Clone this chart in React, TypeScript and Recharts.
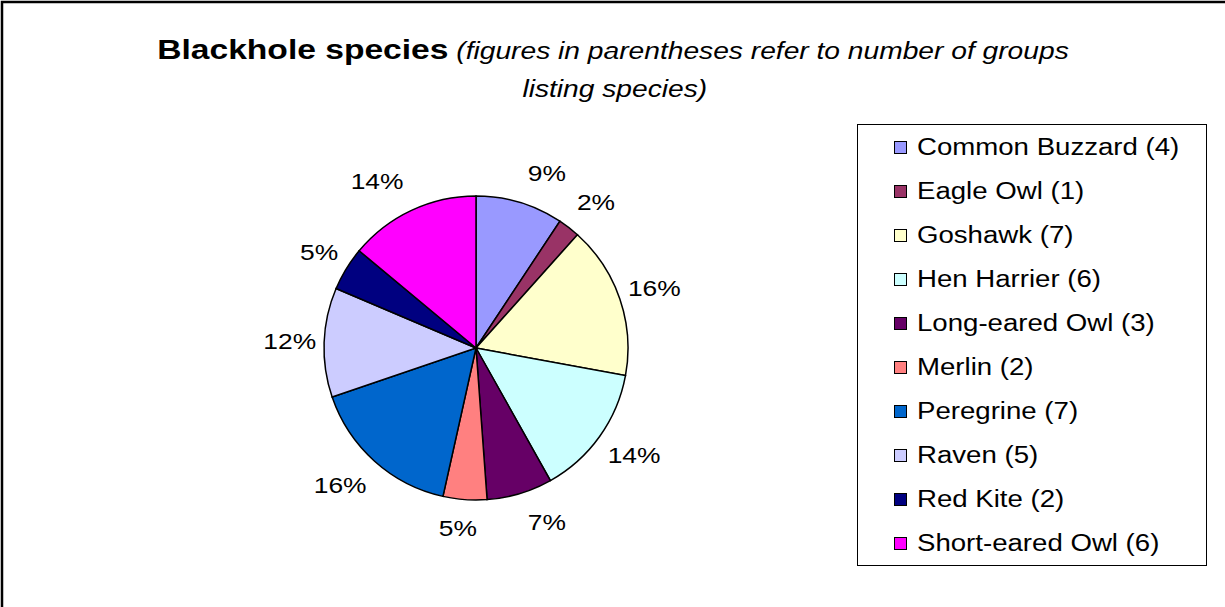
import React from "react";
import { PieChart, Pie, Cell, Legend } from "recharts";

// species and number of groups listing each one
const species = [
  "Common Buzzard",
  "Eagle Owl",
  "Goshawk",
  "Hen Harrier",
  "Long-eared Owl",
  "Merlin",
  "Peregrine",
  "Raven",
  "Red Kite",
  "Short-eared Owl",
];
const groupCounts = [4, 1, 7, 6, 3, 2, 7, 5, 2, 6];
const sliceColors = [
  "#9999FF",
  "#993366",
  "#FFFFCC",
  "#CCFFFF",
  "#660066",
  "#FF8080",
  "#0066CC",
  "#CCCCFF",
  "#000080",
  "#FF00FF",
];

const data = species.map((name, i) => ({
  name: `${name} (${groupCounts[i]})`,
  value: groupCounts[i],
}));

const W = 1225;
const H = 607;
const FONT = "'Liberation Sans', Arial, sans-serif";
const STRETCH = 1.2; // text is drawn a little wide, like the old office charts
const RAD = Math.PI / 180;
const clamp = (v: number) => Math.max(-1, Math.min(1, v));

// percent labels sit just off the rim, pushed sideways/up/down from the slice middle
const renderLabel = (props: any) => {
  const { cx, cy, midAngle, outerRadius, percent } = props;
  const text = `${Math.round(percent * 100)}%`;
  const fontSize = 22;
  const halfW = (((text.length - 1) * 0.556 + 0.889) * fontSize * STRETCH) / 2;
  const c = Math.cos(-midAngle * RAD);
  const s = Math.sin(-midAngle * RAD);
  const x = cx + outerRadius * c + clamp(c / 0.28) * (halfW + 8);
  const y = cy + outerRadius * s + clamp(s * 1.1) * 29;
  return (
    <g transform={`translate(${x},${y}) scale(${STRETCH},1)`}>
      <text
        x={0}
        y={0}
        textAnchor="middle"
        dominantBaseline="central"
        fontFamily={FONT}
        fontSize={fontSize}
        fill="#000"
      >
        {text}
      </text>
    </g>
  );
};

const renderLegend = (props: any) => {
  const items = props.payload || [];
  return (
    <div
      style={{
        width: 350,
        height: 442,
        boxSizing: "border-box",
        border: "1.5px solid #000",
        background: "#fff",
        fontFamily: FONT,
      }}
    >
      {items.map((item: any, i: number) => (
        <div
          key={i}
          style={{
            height: 44,
            display: "flex",
            alignItems: "center",
            position: "relative",
          }}
        >
          <span
            style={{
              position: "absolute",
              left: 36,
              width: 13,
              height: 13,
              boxSizing: "border-box",
              border: "1px solid #000",
              background: sliceColors[i],
            }}
          />
          <span
            style={{
              position: "absolute",
              left: 59,
              fontSize: 23,
              lineHeight: "44px",
              whiteSpace: "nowrap",
              transform: `scaleX(${STRETCH})`,
              transformOrigin: "left center",
              color: "#000",
            }}
          >
            {item.value}
          </span>
        </div>
      ))}
    </div>
  );
};

export default function App() {
  return (
    <div
      style={{
        position: "fixed",
        left: 0,
        top: 0,
        width: W,
        height: H,
        overflow: "hidden",
        background: "#fff",
      }}
    >
      <svg
        width={W}
        height={H}
        style={{ position: "absolute", left: 0, top: 0 }}
      >
        {/* chart frame: only its top and left edges are in view */}
        <path d={`M2,${H} L2,2 L${W},2`} fill="none" stroke="#000" strokeWidth={2.5} />
        <g transform={`translate(613,0) scale(${STRETCH},1)`}>
          <text x={0} y={59} textAnchor="middle" fontFamily={FONT} fill="#000">
            <tspan fontWeight="bold" fontSize={28}>
              Blackhole species
            </tspan>
            <tspan fontStyle="italic" fontSize={23.5}>
              {" "}
              (figures in parentheses refer to number of groups
            </tspan>
          </text>
          <text
            x={1.5}
            y={97}
            textAnchor="middle"
            fontFamily={FONT}
            fontStyle="italic"
            fontSize={23.5}
            fill="#000"
          >
            listing species)
          </text>
        </g>
      </svg>
      <div style={{ position: "absolute", left: 0, top: 0 }}>
        <PieChart
          width={W}
          height={H}
          margin={{ top: 0, right: 0, bottom: 0, left: 0 }}
        >
          <Pie
            data={data}
            dataKey="value"
            nameKey="name"
            cx={476}
            cy={348}
            outerRadius={152}
            startAngle={90}
            endAngle={-270}
            stroke="#000"
            strokeWidth={1.5}
            labelLine={false}
            label={renderLabel}
            isAnimationActive={false}
          >
            {data.map((d, i) => (
              <Cell key={d.name} fill={sliceColors[i]} />
            ))}
          </Pie>
          <Legend
            content={renderLegend}
            wrapperStyle={{
              position: "absolute",
              left: 857,
              top: 124,
              width: 350,
              height: 442,
            }}
          />
        </PieChart>
      </div>
    </div>
  );
}
